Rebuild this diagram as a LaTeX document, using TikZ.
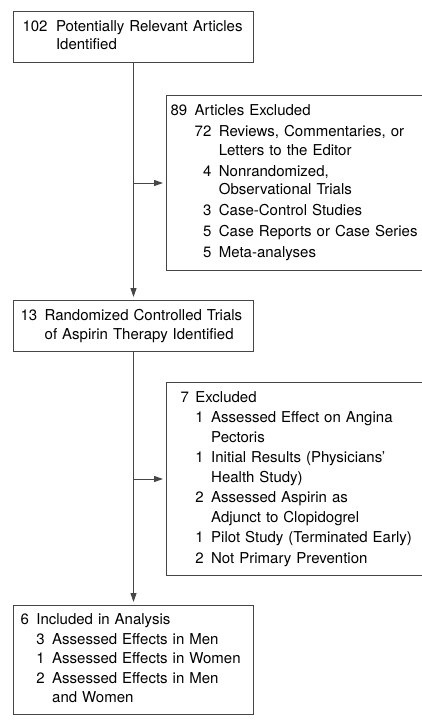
\documentclass[tikz,border=0pt]{standalone}
\usepackage{fontspec}
\setmainfont{TeX Gyre Heros}
\usetikzlibrary{arrows.meta}

\definecolor{linegray}{RGB}{70,70,70}
\newcommand{\boxfont}{\fontsize{15}{18.5}\selectfont}
\newcommand{\numgap}{\hspace{7.5pt}}

\tikzset{
    flowbox/.style={draw=linegray, line width=1pt, anchor=north west, inner ysep=0pt, align=left, font=\boxfont},
    conn/.style={draw=linegray, line width=1pt},
    connarrow/.style={conn, -{Triangle[length=9pt,width=6pt]}, shorten >=3pt}
}

\begin{document}
\begin{tikzpicture}[x=1pt, y=-1pt]
                    \useasboundingbox (0, 0) rectangle (422, 723);

                    \coordinate (B1) at (13, 11);
                    \coordinate (B2) at (166, 95);
                    \coordinate (B3) at (13, 300);
                    \coordinate (B4) at (166, 382);
                    \coordinate (B5) at (13, 605);

                    \node[flowbox, inner xsep=9pt, text width=222pt, minimum height=51pt] (ident) at (B1) {%
                        \begin{tabular}{@{}r@{\hspace{8.5pt}}l@{}}
                        102 & Potentially Relevant Articles\\
                            & Identified
                        \end{tabular}};

                    \node[flowbox, inner xsep=4pt, text width=247.5pt, minimum height=175pt] (excl) at (B2) {%
                        \begin{tabular}{@{}r@{\numgap}r@{\numgap}l@{}}
                        89 & \multicolumn{2}{@{}l@{}}{Articles Excluded}\\[2.5pt]
                           & 72 & Reviews, Commentaries, or\\
                           &    & Letters to the Editor\\[2.5pt]
                           & 4  & Nonrandomized,\\
                           &    & Observational Trials\\[2.5pt]
                           & 3  & Case-Control Studies\\[2.5pt]
                           & 5  & Case Reports or Case Series\\[2.5pt]
                           & 5  & Meta-analyses
                        \end{tabular}};

                    \node[flowbox, inner xsep=7pt, text width=226pt, minimum height=51pt] (trials) at (B3) {%
                        \begin{tabular}{@{}r@{\numgap}l@{}}
                        13 & Randomized Controlled Trials\\[0.5pt]
                           & of Aspirin Therapy Identified
                        \end{tabular}};

                    \node[flowbox, inner xsep=14pt, text width=227.5pt, minimum height=193pt] (excl7) at (B4) {%
                        \begin{tabular}{@{}r@{\hspace{6.5pt}}r@{\numgap}l@{}}
                        7 & \multicolumn{2}{@{}l@{}}{Excluded}\\[2pt]
                          & 1 & Assessed Effect on Angina\\[1pt]
                          &   & Pectoris\\[2pt]
                          & 1 & Initial Results (Physicians'\\[1pt]
                          &   & Health Study)\\[2pt]
                          & 2 & Assessed Aspirin as\\[1pt]
                          &   & Adjunct to Clopidogrel\\[2pt]
                          & 1 & Pilot Study (Terminated Early)\\[2pt]
                          & 2 & Not Primary Prevention
                        \end{tabular}};

                    \node[flowbox, inner xsep=7pt, text width=226pt, minimum height=109pt] (incl) at (B5) {%
                        \begin{tabular}{@{}r@{\numgap}r@{\numgap}l@{}}
                        6 & \multicolumn{2}{@{}l@{}}{Included in Analysis}\\[1pt]
                          & 3 & Assessed Effects in Men\\[1pt]
                          & 1 & Assessed Effects in Women\\[1pt]
                          & 2 & Assessed Effects in Men\\[1pt]
                          &   & and Women
                        \end{tabular}};

                    \draw[connarrow] (ident.south) -- (trials.north);
                    \draw[connarrow] (excl.west -| ident.south) -- (excl.west);

                    \draw[connarrow] (trials.south) -- (incl.north);
                    \draw[connarrow] (excl7.west -| trials.south) -- (excl7.west);

\end{tikzpicture}
\end{document}
